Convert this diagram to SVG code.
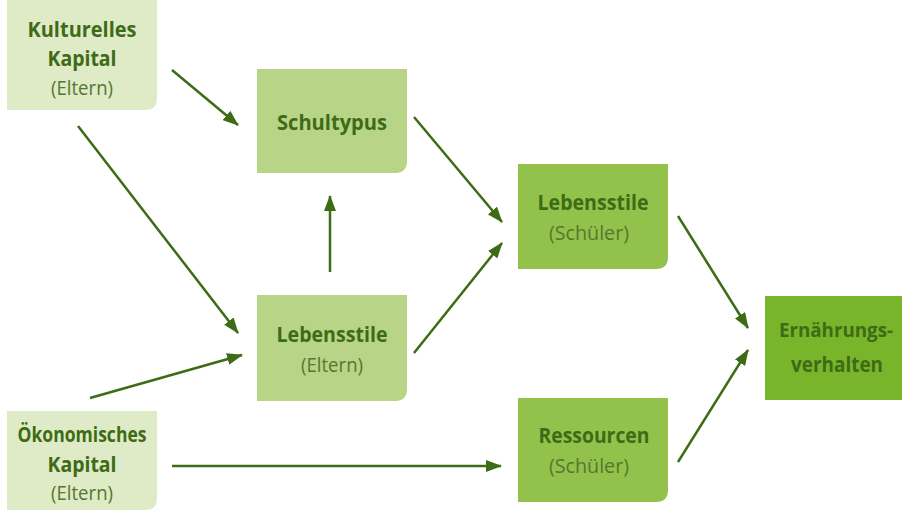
<svg xmlns="http://www.w3.org/2000/svg" width="902" height="510" viewBox="0 0 902 510">
<style>
.t{font-family:"Open Sans","Liberation Sans",sans-serif;font-weight:bold;font-size:21px;fill:#3e6b16;text-anchor:middle}
.s{font-family:"Open Sans","Liberation Sans",sans-serif;font-size:20px;fill:#55782e;text-anchor:middle}
.c1{fill:#dfeac7}.c2{fill:#b8d486}.c3{fill:#92c24b}.c4{fill:#78b52b}
.a{stroke:#3e6b16;stroke-width:2.5;fill:none;marker-end:url(#ah)}
</style>
<defs>
<marker id="ah" viewBox="0 0 16 12" refX="15" refY="6" markerWidth="16" markerHeight="12" markerUnits="userSpaceOnUse" orient="auto">
<path d="M0,0 L16,6 L0,12 Z" fill="#3e6b16"/>
</marker>
</defs>
<rect width="902" height="510" fill="#ffffff"/>
<g id="kulturelles">
<path class="c1" d="M7,0 H157 V98 Q157,110 145,110 H7 Z"/>
<text class="t" x="82" y="37" textLength="109" lengthAdjust="spacingAndGlyphs">Kulturelles</text>
<text class="t" x="82" y="66" textLength="69" lengthAdjust="spacingAndGlyphs">Kapital</text>
<text class="s" x="82" y="95" textLength="62" lengthAdjust="spacingAndGlyphs">(Eltern)</text>
</g>
<g id="schultypus">
<path class="c2" d="M257,69 H407 V161 Q407,173 395,173 H257 Z"/>
<text class="t" x="332" y="130" textLength="110" lengthAdjust="spacingAndGlyphs">Schultypus</text>
</g>
<g id="lebensstile-eltern">
<path class="c2" d="M257,295 H407 V389 Q407,401 395,401 H257 Z"/>
<text class="t" x="332" y="342" textLength="111" lengthAdjust="spacingAndGlyphs">Lebensstile</text>
<text class="s" x="332" y="372" textLength="62" lengthAdjust="spacingAndGlyphs">(Eltern)</text>
</g>
<g id="oekonomisches">
<path class="c1" d="M7,411 H157 V498 Q157,510 145,510 H7 Z"/>
<text class="t" x="82" y="442" textLength="129" lengthAdjust="spacingAndGlyphs">Ökonomisches</text>
<text class="t" x="82" y="472" textLength="69" lengthAdjust="spacingAndGlyphs">Kapital</text>
<text class="s" x="82" y="500" textLength="62" lengthAdjust="spacingAndGlyphs">(Eltern)</text>
</g>
<g id="lebensstile-schueler">
<path class="c3" d="M518,164 H668 V257 Q668,269 656,269 H518 Z"/>
<text class="t" x="593" y="210" textLength="111" lengthAdjust="spacingAndGlyphs">Lebensstile</text>
<text class="s" x="589" y="240" textLength="80" lengthAdjust="spacingAndGlyphs">(Schüler)</text>
</g>
<g id="ressourcen">
<path class="c3" d="M518,398 H668 V490 Q668,502 656,502 H518 Z"/>
<text class="t" x="594" y="443" textLength="111" lengthAdjust="spacingAndGlyphs">Ressourcen</text>
<text class="s" x="589" y="473" textLength="80" lengthAdjust="spacingAndGlyphs">(Schüler)</text>
</g>
<g id="ernaehrung">
<rect class="c4" x="765" y="296" width="137" height="104"/>
<text class="t" x="836" y="337" style="font-size:19.5px" textLength="114" lengthAdjust="spacingAndGlyphs">Ernährungs-</text>
<text class="t" x="837" y="372" textLength="92" lengthAdjust="spacingAndGlyphs">verhalten</text>
</g>
<g id="connectors">
<line class="a" x1="172" y1="70" x2="238" y2="125"/>
<line class="a" x1="78" y1="126" x2="238" y2="333"/>
<line class="a" x1="90" y1="398" x2="242" y2="355"/>
<line class="a" x1="172" y1="466" x2="501" y2="466"/>
<line class="a" x1="330" y1="272" x2="330" y2="196"/>
<line class="a" x1="414" y1="117" x2="502" y2="222"/>
<line class="a" x1="414" y1="353" x2="502" y2="243"/>
<line class="a" x1="678" y1="216" x2="748" y2="328"/>
<line class="a" x1="678" y1="462" x2="748" y2="350"/>
</g>
</svg>
